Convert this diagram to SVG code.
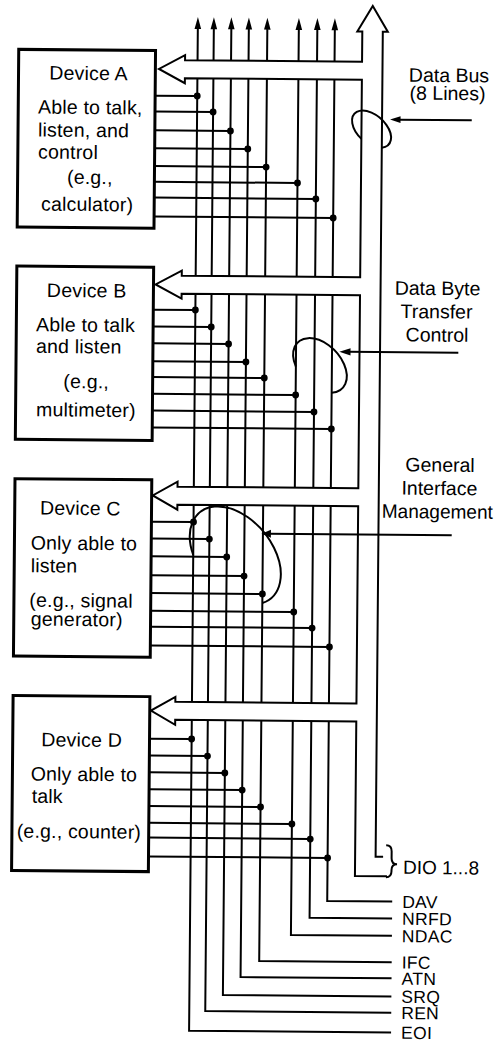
<svg xmlns="http://www.w3.org/2000/svg" xmlns:xlink="http://www.w3.org/1999/xlink" width="498" height="1049" viewBox="0 0 498 1049">
<style>
.ln{stroke:#000;stroke-width:2;fill:none}
.bx{fill:#fff;stroke:#000;stroke-width:3}
.bus{fill:#fff;stroke:#000;stroke-width:2;stroke-linejoin:miter}
.dot{fill:#000}
.ah{fill:#000}
text{font-family:"Liberation Sans",Arial,Helvetica,sans-serif;font-size:19.5px;fill:#000}
.dv{letter-spacing:0.2px}
.mid{text-anchor:middle}
.lbl{font-size:17.5px;letter-spacing:0.3px}
</style>
<defs>
<path id="upa" d="M0 17.5 L-3.3 29.5 L3.3 29.5 Z"/>
</defs>
<rect x="0" y="0" width="498" height="1049" fill="#fff"/>
<g transform="rotate(0.5 250 525)">
<g id="connectors">
<path class="ln" d="M193.5 29 V1031.2 H395.5"/>
<path class="ln" d="M209.5 29 V1011.4 H395.5"/>
<path class="ln" d="M227 29 V995.2 H395.5"/>
<path class="ln" d="M244.5 29 V977.1 H395.5"/>
<path class="ln" d="M263 29 V960.9 H395.5"/>
<path class="ln" d="M294.5 29 V934.6 H395.5"/>
<path class="ln" d="M313 29 V917.2 H395.5"/>
<path class="ln" d="M330.5 29 V900.3 H395.5"/>
<use xlink:href="#upa" href="#upa" x="193.5" class="ah"/>
<use xlink:href="#upa" href="#upa" x="209.5" class="ah"/>
<use xlink:href="#upa" href="#upa" x="227" class="ah"/>
<use xlink:href="#upa" href="#upa" x="244.5" class="ah"/>
<use xlink:href="#upa" href="#upa" x="263" class="ah"/>
<use xlink:href="#upa" href="#upa" x="294.5" class="ah"/>
<use xlink:href="#upa" href="#upa" x="313" class="ah"/>
<use xlink:href="#upa" href="#upa" x="330.5" class="ah"/>
<path class="ln" d="M151 96.5 H193.5 M151 112.3 H209.5 M151 131.2 H227 M151 149 H244.5 M151 166.9 H263 M151 182.6 H294.5 M151 198.4 H313 M151 217.3 H330.5"/>
<path class="ln" d="M151 310.5 H193.5 M151 327.3 H209.5 M151 344.2 H227 M151 362 H244.5 M151 377.9 H263 M151 394.6 H294.5 M151 411.4 H313 M151 428.3 H330.5"/>
<path class="ln" d="M151 522.5 H193.5 M151 539.4 H209.5 M151 557.2 H227 M151 576.1 H244.5 M151 593.9 H263 M151 611.6 H294.5 M151 627.5 H313 M151 646.3 H330.5"/>
<path class="ln" d="M151 739.5 H193.5 M151 756.4 H209.5 M151 773.2 H227 M151 790.1 H244.5 M151 806.9 H263 M151 823.6 H294.5 M151 838.5 H313 M151 857.3 H330.5"/>
<g class="dot">
<circle cx="193.5" cy="96.5" r="3.4"/><circle cx="209.5" cy="112.3" r="3.4"/><circle cx="227" cy="131.2" r="3.4"/><circle cx="244.5" cy="149" r="3.4"/><circle cx="263" cy="166.9" r="3.4"/><circle cx="294.5" cy="182.6" r="3.4"/><circle cx="313" cy="198.4" r="3.4"/><circle cx="330.5" cy="217.3" r="3.4"/>
<circle cx="193.5" cy="310.5" r="3.4"/><circle cx="209.5" cy="327.3" r="3.4"/><circle cx="227" cy="344.2" r="3.4"/><circle cx="244.5" cy="362" r="3.4"/><circle cx="263" cy="377.9" r="3.4"/><circle cx="294.5" cy="394.6" r="3.4"/><circle cx="313" cy="411.4" r="3.4"/><circle cx="330.5" cy="428.3" r="3.4"/>
<circle cx="193.5" cy="522.5" r="3.4"/><circle cx="209.5" cy="539.4" r="3.4"/><circle cx="227" cy="557.2" r="3.4"/><circle cx="244.5" cy="576.1" r="3.4"/><circle cx="263" cy="593.9" r="3.4"/><circle cx="294.5" cy="611.6" r="3.4"/><circle cx="313" cy="627.5" r="3.4"/><circle cx="330.5" cy="646.3" r="3.4"/>
<circle cx="193.5" cy="739.5" r="3.4"/><circle cx="209.5" cy="756.4" r="3.4"/><circle cx="227" cy="773.2" r="3.4"/><circle cx="244.5" cy="790.1" r="3.4"/><circle cx="263" cy="806.9" r="3.4"/><circle cx="294.5" cy="823.6" r="3.4"/><circle cx="313" cy="838.5" r="3.4"/><circle cx="330.5" cy="857.3" r="3.4"/>
</g>
</g>
<g id="data-bus">
<path class="bus" d="M386 855.6 H378.5 V30.5 H383.5 L368.25 5 L353 30.5 H358 V60.8 H181 V55.8 L155 69.8 L181 83.8 V78.8 H358 V276.3 H179.6 V271.3 L153.5 285.3 L179.6 299.3 V294.3 H358 V487.3 H177.2 V482.3 L152.5 496.3 L177.2 510.3 V505.3 H358 V702.5 H176.9 V697.5 L152.5 711.5 L176.9 725.5 V720.5 H358 V875 H390"/>
</g>
<g id="device-a">
<rect class="bx" x="14.6" y="51.4" width="136.8" height="177.7"/>
<text class="dv mid" x="84.6" y="81.4">Device A</text>
<text class="dv" x="34.4" y="115.4">Able to talk,</text>
<text class="dv" x="34.6" y="138.4">listen, and</text>
<text class="dv" x="34.8" y="160.4">control</text>
<text class="dv" x="64" y="185.4">(e.g.,</text>
<text class="dv" x="38.3" y="212.4">calculator)</text>
</g>
<g id="device-b">
<rect class="bx" x="14.6" y="268.1" width="136.8" height="173.3"/>
<text class="dv mid" x="84.7" y="298.7">Device B</text>
<text class="dv" x="34.3" y="333.1">Able to talk</text>
<text class="dv" x="34.5" y="354.7">and listen</text>
<text class="dv" x="62.1" y="389.7">(e.g.,</text>
<text class="dv" x="35.1" y="418.1">multimeter)</text>
</g>
<g id="device-c">
<rect class="bx" x="14.6" y="480.7" width="136.8" height="177.4"/>
<text class="dv mid" x="80.2" y="516.4">Device C</text>
<text class="dv" x="30.9" y="551.4">Only able to</text>
<text class="dv" x="31.1" y="574.1">listen</text>
<text class="dv" x="30" y="608.7">(e.g., signal</text>
<text class="dv" x="31.6" y="627.5">generator)</text>
</g>
<g id="device-d">
<rect class="bx" x="14.6" y="697.5" width="136.8" height="175"/>
<text class="dv mid" x="83.6" y="748.1">Device D</text>
<text class="dv" x="32.9" y="782.4">Only able to</text>
<text class="dv" x="34.1" y="804.7">talk</text>
<text class="dv" x="19.4" y="839.7">(e.g., counter)</text>
</g>
<g id="label-data-bus">
<path class="ln" d="M358 137.8 A23 14 41.5 1 1 378.5 146.5"/>
<path class="ln" d="M468.2 118.4 H395"/>
<path class="ah" d="M386.5 118.4 L397 115 L397 121.8 Z"/>
<text class="mid" x="445.1" y="80.3">Data Bus</text>
<text class="mid" x="443.8" y="98.3">(8 Lines)</text>
</g>
<g id="label-data-byte-transfer">
<path class="ln" d="M294.5 366.3 A32 21 45.8 1 1 330.5 392"/>
<path class="ln" d="M456.8 351 H347"/>
<path class="ah" d="M337.8 351 L349 347.3 L349 354.7 Z"/>
<text class="mid" x="435.5" y="293.4">Data Byte</text>
<text class="mid" x="434.7" y="316.7">Transfer</text>
<text class="mid" x="435.4" y="340">Control</text>
</g>
<g id="label-general-interface">
<path class="ln" d="M193.5 555.5 A55.8 36.8 49.9 1 1 263 602.9"/>
<path class="ln" d="M451.8 533.6 H269"/>
<path class="ah" d="M261.5 533.6 L271 529.6 L271 537.6 Z"/>
<text class="mid" x="439.5" y="470">General</text>
<text class="mid" x="439.1" y="493.3">Interface</text>
<text class="mid" x="437.2" y="516.7" textLength="111" lengthAdjust="spacingAndGlyphs">Management</text>
</g>
<g id="signal-names">
<path class="ln" d="M389 844 Q394.5 844 394.5 850 V857 Q394.5 863 400 863 Q394.5 863 394.5 869 V870 Q394.5 876 389 876"/>
<text x="406" y="872.5" style="font-size:19px">DIO 1...8</text>
<text class="lbl" x="405.5" y="906.6">DAV</text>
<text class="lbl" x="405.5" y="923.5">NRFD</text>
<text class="lbl" x="405.5" y="940.9">NDAC</text>
<text class="lbl" x="405.5" y="967.2">IFC</text>
<text class="lbl" x="405.5" y="983.4">ATN</text>
<text class="lbl" x="405.5" y="1001.5">SRQ</text>
<text class="lbl" x="405.5" y="1017.7">REN</text>
<text class="lbl" x="405.5" y="1037.5">EOI</text>
</g>
</g>
</svg>
